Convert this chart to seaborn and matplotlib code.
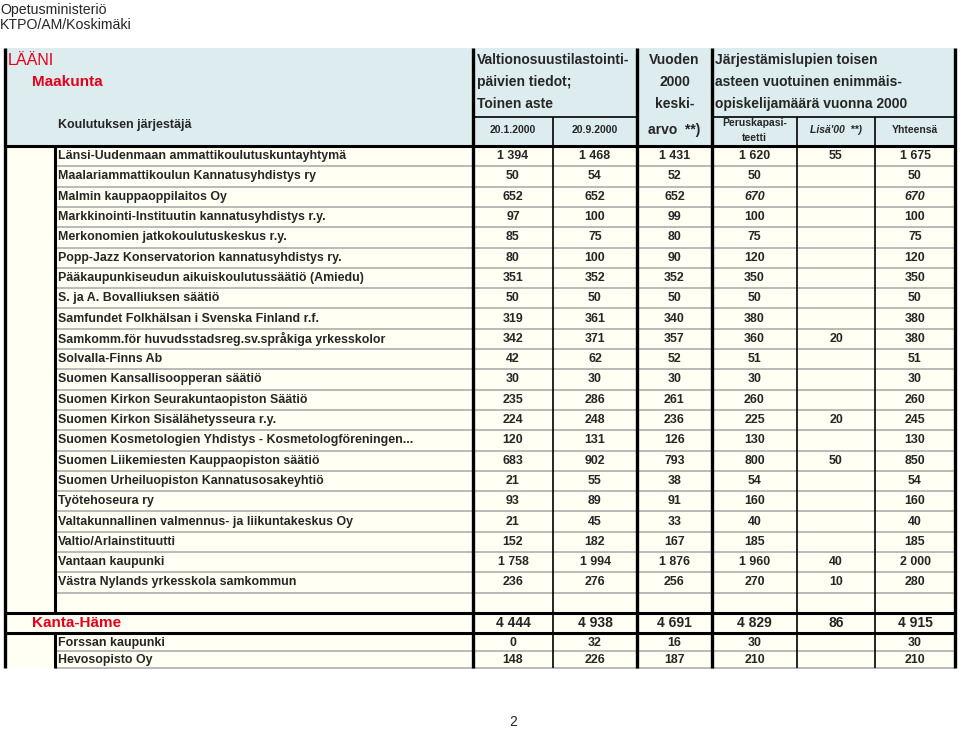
import matplotlib
matplotlib.use('Agg')
import matplotlib.pyplot as plt
from matplotlib.patches import Rectangle
import seaborn as sns

# organisations of Uusimaa (Länsi-Suomen lääni) section
names = [
    "Länsi-Uudenmaan ammattikoulutuskuntayhtymä",
    "Maalariammattikoulun Kannatusyhdistys ry",
    "Malmin kauppaoppilaitos Oy",
    "Markkinointi-Instituutin kannatusyhdistys r.y.",
    "Merkonomien jatkokoulutuskeskus r.y.",
    "Popp-Jazz Konservatorion kannatusyhdistys ry.",
    "Pääkaupunkiseudun aikuiskoulutussäätiö (Amiedu)",
    "S. ja A. Bovalliuksen säätiö",
    "Samfundet Folkhälsan i Svenska Finland r.f.",
    "Samkomm.för huvudsstadsreg.sv.språkiga yrkesskolor",
    "Solvalla-Finns Ab",
    "Suomen Kansallisoopperan säätiö",
    "Suomen Kirkon Seurakuntaopiston Säätiö",
    "Suomen Kirkon Sisälähetysseura r.y.",
    "Suomen Kosmetologien Yhdistys - Kosmetologföreningen...",
    "Suomen Liikemiesten Kauppaopiston säätiö",
    "Suomen Urheiluopiston Kannatusosakeyhtiö",
    "Työtehoseura ry",
    "Valtakunnallinen valmennus- ja liikuntakeskus Oy",
    "Valtio/Arlainstituutti",
    "Vantaan kaupunki",
    "Västra Nylands yrkesskola samkommun",
]
tammi = [1394, 50, 652, 97, 85, 80, 351, 50, 319, 342, 42, 30, 235, 224, 120, 683, 21, 93, 21, 152, 1758, 236]
syys = [1468, 54, 652, 100, 75, 100, 352, 50, 361, 371, 62, 30, 286, 248, 131, 902, 55, 89, 45, 182, 1994, 276]
keski = [1431, 52, 652, 99, 80, 90, 352, 50, 340, 357, 52, 30, 261, 236, 126, 793, 38, 91, 33, 167, 1876, 256]
perus = [1620, 50, 670, 100, 75, 120, 350, 50, 380, 360, 51, 30, 260, 225, 130, 800, 54, 160, 40, 185, 1960, 270]
lisa = [55, None, None, None, None, None, None, None, None, 20, None, None, None, 20, None, 50, None, None, None, None, 40, 10]
yht = [1675, 50, 670, 100, 75, 120, 350, 50, 380, 380, 51, 30, 260, 245, 130, 850, 54, 160, 40, 185, 2000, 280]
italic_rows = [2]  # 670 printed in italics

kh_name = "Kanta-Häme"
kh_total = [4444, 4938, 4691, 4829, 86, 4915]
kh_names = ["Forssan kaupunki", "Hevosopisto Oy"]
kh_rows = [[0, 32, 16, 30, None, 30], [148, 226, 187, 210, None, 210]]

sns.set_style("white")
plt.rcParams['font.family'] = ['Liberation Sans', 'DejaVu Sans']

fig, ax = plt.subplots(figsize=(9.6, 7.29), dpi=100)
ax.set_position([0, 0, 1, 1])
ax.set_xlim(0, 960)
ax.set_ylim(729, 0)
ax.axis('off')

RED = "#e3001b"
HEAD_BG = "#ddecef"
CREAM = "#fffff3"
GRAY = "#b4b4b4"

L, INNER, LAB, R = 5, 55, 473, 955
cols = [473, 553, 637, 712, 797, 875, 955]
centers = [(a + b) / 2 for a, b in zip(cols[:-1], cols[1:])]
thick_cols = [473, 637, 712, 955]
thin_cols = [553, 797, 875]

top, head_bot = 48, 146
rh = 20.3
n = len(names)
empty_bot = head_bot + rh * (n + 1)
kh_bot = empty_bot + rh
sub_h = 17.5
bottom = kh_bot + sub_h * 2

ax.add_patch(Rectangle((L, top), R - L, head_bot - top, color=HEAD_BG, lw=0, zorder=0))
ax.add_patch(Rectangle((L, head_bot), R - L, bottom - head_bot, color=CREAM, lw=0, zorder=0))

# page header
ax.text(0, 10, "Opetusministeriö", fontsize=10.2, va='center', ha='left')
ax.text(0, 25, "KTPO/AM/Koskimäki", fontsize=10.2, va='center', ha='left')

# table header
ax.text(8, 60, "LÄÄNI", fontsize=11.5, color=RED, va='center')
ax.text(32, 82, "Maakunta", fontsize=11, color=RED, weight='bold', va='center')
ax.text(58, 125, "Koulutuksen järjestäjä", fontsize=9, weight='bold', va='center')
hb = dict(fontsize=10, weight='bold', va='center')
for y, t in zip([60, 82, 104], ["Valtionosuustilastointi-", "päivien tiedot;", "Toinen aste"]):
    ax.text(477, y, t, ha='left', **hb)
for y, t in zip([60, 82, 104, 130], ["Vuoden", "2000", "keski-", "arvo  **)"]):
    ax.text(centers[2], y, t, ha='center', **hb)
for y, t in zip([60, 82, 104], ["Järjestämislupien toisen", "asteen vuotuinen enimmäis-", "opiskelijamäärä vuonna 2000"]):
    ax.text(715, y, t, ha='left', **hb)
sb = dict(fontsize=7.5, weight='bold', va='center', ha='center')
ax.text(centers[0], 130, "20.1.2000", **sb)
ax.text(centers[1], 130, "20.9.2000", **sb)
ax.text(centers[3], 123, "Peruskapasi-", **sb)
ax.text(centers[3], 138, "teetti", **sb)
ax.text(centers[4], 130, "Lisä'00  **)", style='italic', **sb)
ax.text(centers[5], 130, "Yhteensä", **sb)


def fmt(v):
    return "" if v is None else f"{v:,}".replace(",", " ")


# Uusimaa rows
for i, name in enumerate(names):
    yc = head_bot + rh * (i + 0.5)
    ax.text(58, yc, name, fontsize=8.9, weight='bold', va='center', ha='left')
    vals = [tammi[i], syys[i], keski[i], perus[i], lisa[i], yht[i]]
    for j, v in enumerate(vals):
        st = 'italic' if (i in italic_rows and j in (3, 5)) else 'normal'
        ax.text(centers[j], yc, fmt(v), fontsize=8.9, weight='bold', style=st, va='center', ha='center')
    ax.hlines(head_bot + rh * (i + 1), INNER, R, color=GRAY, lw=1.3, zorder=1)

# Kanta-Häme
yc = empty_bot + rh / 2
ax.text(32, yc, kh_name, fontsize=11, color=RED, weight='bold', va='center')
for j, v in enumerate(kh_total):
    ax.text(centers[j], yc, fmt(v), fontsize=10, weight='bold', va='center', ha='center')
for k, (name, vals) in enumerate(zip(kh_names, kh_rows)):
    yc = kh_bot + sub_h * (k + 0.5) + 1
    ax.text(58, yc, name, fontsize=8.9, weight='bold', va='center', ha='left')
    for j, v in enumerate(vals):
        ax.text(centers[j], yc, fmt(v), fontsize=8.9, weight='bold', va='center', ha='center')
    ax.hlines(kh_bot + sub_h * (k + 1), INNER, R, color=GRAY, lw=1.3, zorder=1)

# grid lines
ax.hlines(117, 473, 637, color='black', lw=1.2, zorder=2)
ax.hlines(117, 712, 955, color='black', lw=1.2, zorder=2)
for y in [head_bot, empty_bot, kh_bot]:
    ax.hlines(y, L, R, color='black', lw=2.2, zorder=3)
ax.vlines(INNER, head_bot, empty_bot, color='black', lw=2.2, zorder=3)
ax.vlines(INNER, kh_bot, bottom, color='black', lw=2.2, zorder=3)
for x in [L] + thick_cols:
    ax.vlines(x, top, bottom, color='black', lw=2.4, zorder=3)
for x in thin_cols:
    ax.vlines(x, 117, bottom, color='black', lw=1.2, zorder=3)

ax.text(513, 722, "2", fontsize=10, va='center', ha='center')

fig.savefig("out.png", dpi=100)
